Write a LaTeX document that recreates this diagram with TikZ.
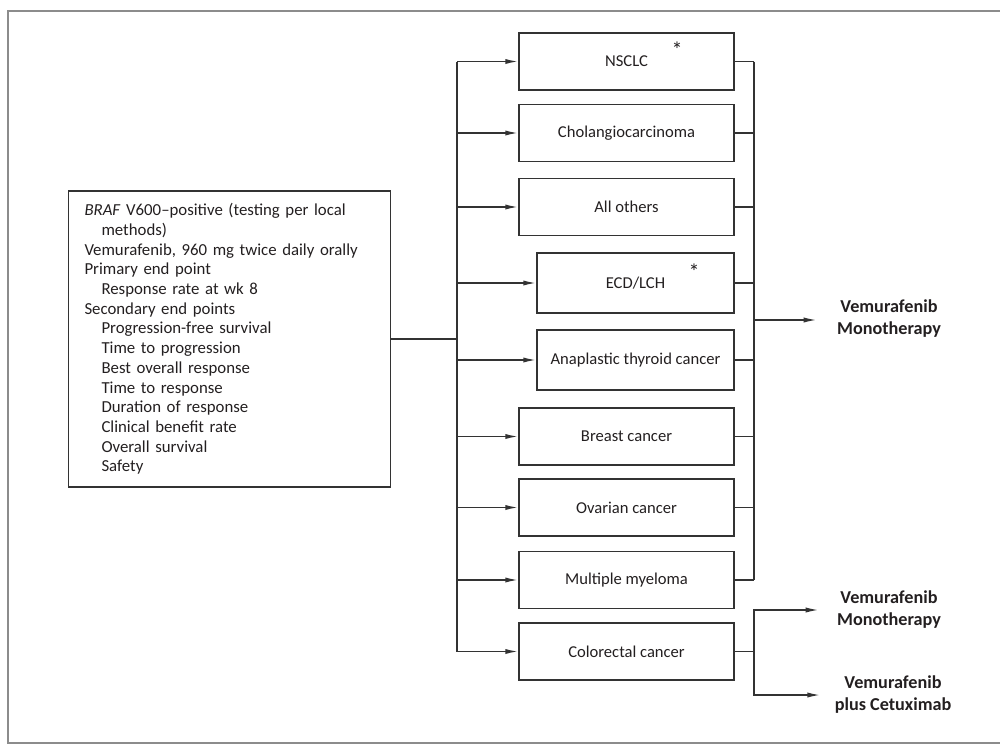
\documentclass[tikz,border=0pt]{standalone}
\usepackage{fontspec}
\setmainfont{Carlito}
\usetikzlibrary{arrows.meta,positioning,calc}
\definecolor{linec}{HTML}{333333}
\definecolor{framec}{HTML}{8C8C8C}
\definecolor{textc}{HTML}{231F20}

\begin{document}
\begin{tikzpicture}[x=0.5pt,y=-0.5pt,
      box/.style={draw=linec,line width=0.75pt,minimum width=107.5pt,minimum height=28.5pt,align=center,text=textc,font=\fontsize{8.3}{9.8}\selectfont},
      narrowbox/.style={box,minimum width=98.5pt,minimum height=30pt},
      result/.style={align=center,text=textc,inner sep=1pt,font=\bfseries\fontsize{9.1}{11}\selectfont},
      starmark/.style={text=textc,inner sep=0pt,font=\fontsize{11}{11}\selectfont},
      conn/.style={draw=linec,line width=0.75pt},
      >={Latex[length=6.5pt,width=2.6pt]}]
    \useasboundingbox (0,0) rectangle (1000,745);
    \draw[framec,line width=1pt] (1000,11) -- (8,11) -- (8,743) -- (1000,743);
    % study design
    \node[draw=linec,line width=0.75pt,text=textc,text width=145pt,inner xsep=8pt,minimum height=148pt,align=left,
          font=\fontsize{8.4}{9.85}\selectfont] (design) at (229.5,339)
      {\textit{BRAF} V600--positive (testing per local\\\hspace*{8.5pt}methods)\\
       Vemurafenib, 960 mg twice daily orally\\Primary end point\\\hspace*{8.5pt}Response rate at wk 8\\
       Secondary end points\\\hspace*{8.5pt}Progression-free survival\\\hspace*{8.5pt}Time to progression\\
       \hspace*{8.5pt}Best overall response\\\hspace*{8.5pt}Time to response\\\hspace*{8.5pt}Duration of response\\
       \hspace*{8.5pt}Clinical benefit rate\\\hspace*{8.5pt}Overall survival\\\hspace*{8.5pt}Safety};
    % cohorts
    \node[box] (nsclc) at (626.5,61.5) {NSCLC};
    \node[box] (cholangio) at (626.5,133) {Cholangiocarcinoma};
    \node[box] (others) at (626.5,207) {All others};
    \node[narrowbox] (ecd) at (635.5,283) {ECD/LCH};
    \node[narrowbox] (thyroid) at (635.5,360) {Anaplastic thyroid cancer};
    \node[box] (breast) at (626.5,436.5) {Breast cancer};
    \node[box] (ovarian) at (626.5,507.5) {Ovarian cancer};
    \node[box] (myeloma) at (626.5,580) {Multiple myeloma};
    \node[box] (crc) at (626.5,651.5) {Colorectal cancer};
    \node[starmark] (nsclcstar) at (677,50) {*};
    \node[starmark] (ecdstar) at (694,272) {*};
    % treatments
    \node[result] (mono) at (889,319) {Vemurafenib\\Monotherapy};
    \node[result] (crcmono) at (889,610) {Vemurafenib\\Monotherapy};
    \node[result] (crccetux) at (893,695) {Vemurafenib\\plus Cetuximab};
    \coordinate (split) at (457,339);
    \coordinate (merge) at (754,320);
    \coordinate (fork) at (754,651.5);
    % branches to cohorts
    \draw[conn] (design.east) -- (split);
    \draw[conn] (nsclc.west -| split) -- (crc.west -| split);
    \foreach \c in {nsclc,cholangio,others,ecd,thyroid,breast,ovarian,myeloma,crc}
      \draw[conn,->] (\c.west -| split) -- (\c.west);
    % merge to monotherapy
    \foreach \c in {nsclc,cholangio,others,ecd,thyroid,breast,ovarian,myeloma}
      \draw[conn] (\c.east) -- (\c.east -| merge);
    \draw[conn] (nsclc.east -| merge) -- (myeloma.east -| merge);
    \draw[conn,->,shorten >=9pt] (merge) -- (mono.west |- merge);
    % colorectal arms
    \draw[conn] (crc.east) -- (fork);
    \draw[conn,->,shorten >=8pt] (fork) |- (crcmono.west);
    \draw[conn,->,shorten >=6pt] (fork) |- (crccetux.west);
\end{tikzpicture}
\end{document}
